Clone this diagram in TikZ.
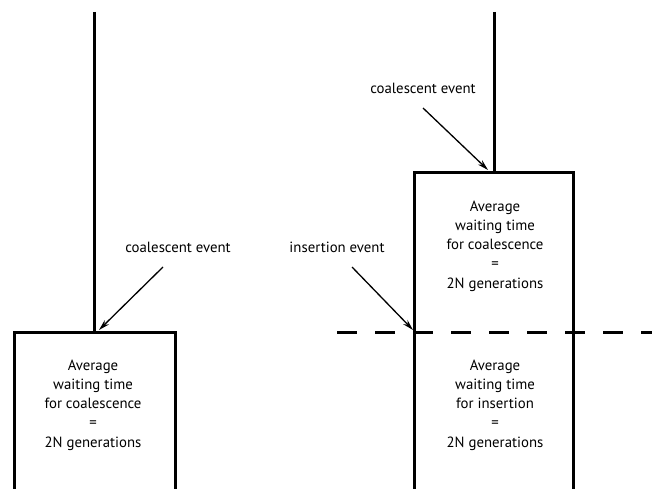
\documentclass[tikz,border=0pt]{standalone}
\usepackage{fontspec}
\setmainfont{PT Sans}
\usetikzlibrary{arrows.meta}
\tikzset{
  lineage/.style={line width=3pt},
  boundary/.style={line width=3pt, dash pattern=on 20pt off 18pt},
  waittext/.style={align=center, font=\fontsize{14.8}{19.3}\selectfont},
  evlabel/.style={font=\fontsize{14.8}{16}\selectfont},
  evarrow/.style={line width=1.3pt, -{Stealth[length=11pt, width=6pt, open]}}
}
\begin{document}
\begin{tikzpicture}[x=1pt, y=-1pt]
  \useasboundingbox (0,0) rectangle (652,489);
  % left lineage
  \coordinate (ltop) at (94,12);
  \coordinate (lbox) at (94,332);
  \draw[lineage] (ltop) -- (lbox);
  \draw[lineage] (14,489) -- (14,332) -- (175,332) -- (175,489);
  \node[waittext] (lwait) at (93,405) {Average\\waiting time\\for coalescence\\=\\2N generations};
  \node[evlabel] (lcoal) at (178,247) {coalescent event};
  \coordinate (lstart) at (163,267);
  \coordinate (ltip) at (99,330);
  \draw[evarrow] (lstart) -- (ltip);
  % right lineage
  \coordinate (rtop) at (494,12);
  \coordinate (rbox) at (494,172);
  \draw[lineage] (rtop) -- (rbox);
  \draw[lineage] (414,489) -- (414,172) -- (573,172) -- (573,489);
  \draw[boundary] (337,332) -- (652,332);
  \node[waittext] (rwaitc) at (495,246) {Average\\waiting time\\for coalescence\\=\\2N generations};
  \node[waittext] (rwaiti) at (495,405) {Average\\waiting time\\for insertion\\=\\2N generations};
  \node[evlabel] (rcoal) at (423,88) {coalescent event};
  \coordinate (rcstart) at (423,108);
  \coordinate (rctip) at (488,170);
  \draw[evarrow] (rcstart) -- (rctip);
  \node[evlabel] (rins) at (337,247) {insertion event};
  \coordinate (ristart) at (352,267);
  \coordinate (ritip) at (413,330);
  \draw[evarrow] (ristart) -- (ritip);
\end{tikzpicture}
\end{document}
